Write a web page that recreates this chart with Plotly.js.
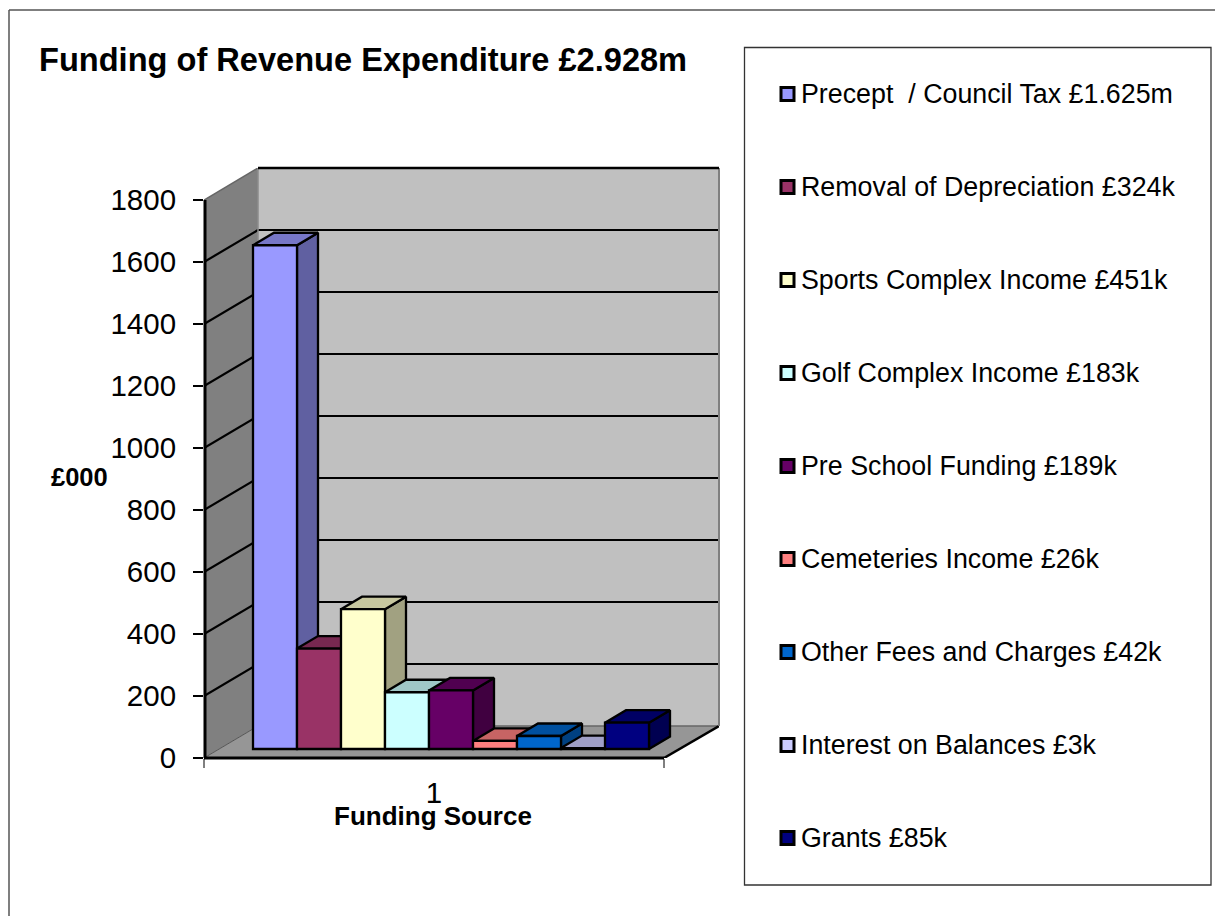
<!DOCTYPE html>
<html>
<head>
<meta charset="utf-8">
<script src="https://cdn.plot.ly/plotly-3.0.1.min.js"></script>
<style>html,body{margin:0;padding:0;background:#fff}#chart{width:1215px;height:916px}</style>
</head>
<body>
<div id="chart"></div>
<script>
// Funding sources, in £000
const sourceNames = [
  "Precept  / Council Tax £1.625m",
  "Removal of Depreciation £324k",
  "Sports Complex Income £451k",
  "Golf Complex Income £183k",
  "Pre School Funding £189k",
  "Cemeteries Income £26k",
  "Other Fees and Charges £42k",
  "Interest on Balances £3k",
  "Grants £85k"
];
const sourceValues = [1625, 324, 451, 183, 189, 26, 42, 3, 85];
const frontColors = ["#9999FF", "#993366", "#FFFFCC", "#CCFFFF", "#660066", "#FF8080", "#0066CC", "#CCCCFF", "#000080"];
const valueTicks = [0, 200, 400, 600, 800, 1000, 1200, 1400, 1600, 1800];

// Page geometry of the plot box
const W = 1215, H = 916;
const boxLeft = 204, boxRight = 719, boxTop = 168, boxBottom = 758;
const pxPerValue = 0.31, pxPerCategory = 460;

// Oblique projection, expressed in axis units
const wallDX = 54 / pxPerCategory, wallDY = 32 / pxPerValue;       // floor depth
const barDX = 21 / pxPerCategory, barDY = 12.5 / pxPerValue;       // bar depth
const barBaseY = 9 / pxPerValue;                                   // bars stand in from the floor edge
const barStart = 49 / pxPerCategory, barWidth = 44 / pxPerCategory;

const xRange = [0, (boxRight - boxLeft) / pxPerCategory];
const yRange = [0, (boxBottom - boxTop) / pxPerValue];

// Paper coordinates for items placed by page pixel
const paperX = px => (px - boxLeft) / (boxRight - boxLeft);
const paperY = py => (boxBottom - py) / (boxBottom - boxTop);

function shade(hex, k) {
  const n = parseInt(hex.slice(1), 16);
  const c = [(n >> 16) & 255, (n >> 8) & 255, n & 255].map(v => Math.round(v * k));
  return "rgb(" + c.join(",") + ")";
}

function polygon(xs, ys, fill, z) {
  return {
    type: "scatter", mode: "lines", x: xs.concat(xs[0]), y: ys.concat(ys[0]),
    fill: "toself", fillcolor: fill, line: {color: "#000", width: 2.3},
    showlegend: false, hoverinfo: "skip", zorder: z
  };
}

const traces = [];
sourceValues.forEach((v, i) => {
  const x0 = barStart + i * barWidth, x1 = x0 + barWidth;
  const yb = barBaseY, yt = barBaseY + v;
  // Side and top faces sit behind this bar's front but above the previous bar
  traces.push(polygon(
    [x1, x1 + barDX, x1 + barDX, x1],
    [yb, yb + barDY, yt + barDY, yt], shade(frontColors[i], 0.63), 2 * i + 1));
  traces.push(polygon(
    [x0, x0 + barDX, x1 + barDX, x1],
    [yt, yt + barDY, yt + barDY, yt], shade(frontColors[i], 0.78), 2 * i + 1));
  traces.push({
    type: "bar", name: sourceNames[i], showlegend: false,
    x: [x0 + barWidth / 2], y: [v], base: [barBaseY], width: [barWidth],
    marker: {color: frontColors[i], line: {color: "#000", width: 2.3}},
    hovertemplate: sourceNames[i] + "<extra></extra>", zorder: 2 * i + 2
  });
});

// Walls and floor of the box
const shapes = [
  {type: "path", layer: "below", xref: "x", yref: "y", fillcolor: "#C0C0C0", line: {width: 0},
   path: `M${wallDX},${wallDY}L${xRange[1]},${wallDY}L${xRange[1]},${yRange[1]}L${wallDX},${yRange[1]}Z`},
  {type: "path", layer: "below", xref: "x", yref: "y", fillcolor: "#808080", line: {width: 0},
   path: `M0,0L${wallDX},${wallDY}L${wallDX},${yRange[1]}L0,1800Z`},
  {type: "path", layer: "below", xref: "x", yref: "y", fillcolor: "#969696", line: {width: 0},
   path: `M0,0L1,0L${xRange[1]},${wallDY}L${wallDX},${wallDY}Z`}
];

function segment(x0, y0, x1, y1, color, width) {
  return {type: "line", layer: "below", xref: "x", yref: "y", x0, y0, x1, y1, line: {color, width}};
}
// Edges on the plot boundary use a paper reference so their full width stays visible
function edgeVertical(xFrac, y0, y1, color, width) {
  return {type: "line", layer: "above", xref: "paper", yref: "y", x0: xFrac, x1: xFrac, y0, y1, line: {color, width}};
}
function edgeHorizontal(yFrac, x0, x1, color, width) {
  return {type: "line", layer: "above", xref: "x", yref: "paper", y0: yFrac, y1: yFrac, x0, x1, line: {color, width}};
}

// Gridlines wrap from the side wall onto the back wall
valueTicks.filter(t => t > 0 && t < 1800).forEach(t => {
  shapes.push(segment(wallDX, t + wallDY, xRange[1], t + wallDY, "#000", 2.2));
  shapes.push(segment(0, t, wallDX, t + wallDY, "#000", 2.2));
});
shapes.push(segment(0, 1800, wallDX, yRange[1], "#666", 1.5));
shapes.push(segment(0, 0, wallDX, wallDY, "#555", 1));
shapes.push(segment(wallDX, wallDY, wallDX, yRange[1], "#8c8c8c", 1.5));
shapes.push(segment(wallDX, wallDY, xRange[1], wallDY, "#666", 1.5));
shapes.push(edgeVertical(1, wallDY, yRange[1], "#808080", 2));
shapes.push(edgeHorizontal(1, wallDX, xRange[1], "#000", 2.5));
shapes.push(segment(1, 0, xRange[1], wallDY, "#000", 2.5));
shapes.push(edgeVertical(paperX(205), 0, 1800, "#000", 3));
shapes.push(edgeHorizontal(0, 0, 1, "#000", 3));

// Outer frame runs off the right and bottom of the page
shapes.push({type: "line", xref: "paper", yref: "paper", x0: paperX(9), y0: paperY(10), x1: paperX(W), y1: paperY(10), line: {color: "#555", width: 1.5}});
shapes.push({type: "line", xref: "paper", yref: "paper", x0: paperX(9), y0: paperY(10), x1: paperX(9), y1: paperY(H), line: {color: "#555", width: 1.5}});

// Key panel: one swatch and one label per funding source
shapes.push({type: "rect", layer: "below", xref: "paper", yref: "paper",
  x0: paperX(744.5), x1: paperX(1211), y0: paperY(47.5), y1: paperY(885),
  fillcolor: "#fff", line: {color: "#333", width: 1.3}});

const keyFirstRow = 94, keyRowStep = 93;
const keyAnnotations = sourceNames.map((name, i) => ({
  xref: "paper", yref: "paper", x: paperX(801), y: paperY(keyFirstRow + i * keyRowStep),
  xanchor: "left", yanchor: "middle", xshift: -2, text: name, showarrow: false,
  font: {size: 26.8, color: "#000"}
}));
frontColors.forEach((color, i) => {
  const cy = keyFirstRow + i * keyRowStep;
  shapes.push({type: "rect", xref: "paper", yref: "paper",
    x0: paperX(781), x1: paperX(794), y0: paperY(cy - 6.5), y1: paperY(cy + 6.5),
    fillcolor: color, line: {color: "#000", width: 3}});
});

const layout = {
  width: W, height: H, autosize: false, showlegend: false,
  paper_bgcolor: "#fff", plot_bgcolor: "rgba(0,0,0,0)",
  margin: {l: boxLeft, r: W - boxRight, t: boxTop, b: H - boxBottom, pad: 0},
  font: {family: "Liberation Sans, Arial, sans-serif", color: "#000", size: 26},
  title: {
    text: "<b>Funding of Revenue Expenditure £2.928m</b>",
    xref: "container", yref: "container", x: 39 / W, xanchor: "left",
    y: 1 - 60 / H, yanchor: "middle", font: {size: 32.6, color: "#000"}
  },
  barmode: "overlay",
  xaxis: {
    range: xRange, showgrid: false, zeroline: false, showline: false,
    tickmode: "array", tickvals: [0.5], ticktext: ["1"],
    ticks: "outside", ticklen: 9, tickcolor: "rgba(0,0,0,0)",
    minor: {tickmode: "array", tickvals: [0, 1], ticks: "outside", ticklen: 9, tickcolor: "#808080", tickwidth: 1.5},
    tickfont: {size: 29.5}
  },
  yaxis: {
    range: yRange, showgrid: false, zeroline: false, showline: false,
    tickmode: "array", tickvals: valueTicks, ticktext: valueTicks.map(String),
    ticks: "outside", ticklen: 10, tickcolor: "#000", tickwidth: 1.5,
    ticklabelstandoff: 11, tickfont: {size: 29.5}
  },
  annotations: [
    {xref: "paper", yref: "paper", x: paperX(79.5), y: paperY(477), xanchor: "center", yanchor: "middle",
     text: "<b>£000</b>", showarrow: false, font: {size: 25.5, color: "#000"}},
    {xref: "paper", yref: "paper", x: paperX(432.5), y: paperY(816), xanchor: "center", yanchor: "middle",
     text: "<b>Funding Source</b>", showarrow: false, font: {size: 26, color: "#000"}}
  ].concat(keyAnnotations),
  shapes: shapes
};

Plotly.newPlot("chart", traces, layout, {displayModeBar: false, responsive: false});
</script>
</body>
</html>
